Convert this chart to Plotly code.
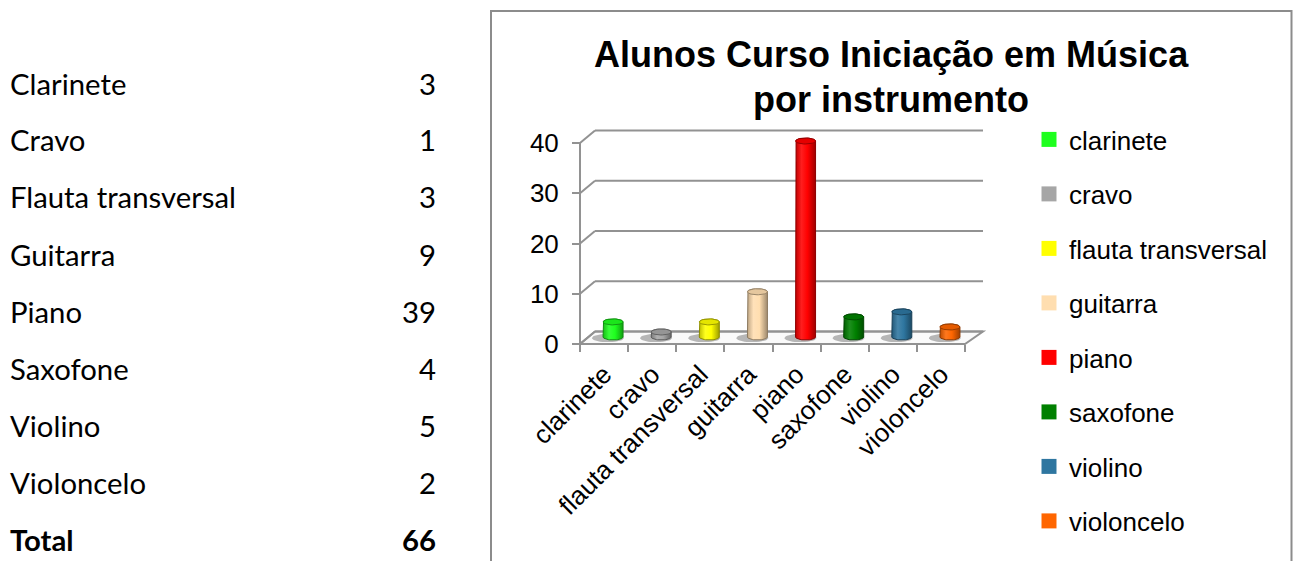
import numpy as np
import plotly.graph_objects as go

# ---------------- data ----------------
table_labels = ["Clarinete", "Cravo", "Flauta transversal", "Guitarra", "Piano",
                "Saxofone", "Violino", "Violoncelo"]
categories = ["clarinete", "cravo", "flauta transversal", "guitarra", "piano",
              "saxofone", "violino", "violoncelo"]
values = [3, 1, 3, 9, 39, 4, 5, 2]
total_label = "Total"
total_value = 66
y_ticks = [0, 10, 20, 30, 40]
colors = ["#1EFF1E", "#A6A6A6", "#FFFF00", "#FFDEB0", "#FF0000", "#008000",
          "#2E76A0", "#FF6600"]
title_lines = ["Alunos Curso Iniciação em Música", "por instrumento"]

# ---------------- geometry (pixels) ----------------
W, H = 1295, 561
FX0, FX1 = 580, 965          # front floor edge in px
FY0, FYTOP = 344, 143        # px of value 0 and of top tick
n = len(categories)
ux = (FX1 - FX0) / n
uy = (FY0 - FYTOP) / y_ticks[-1]
DXL, DXR, DY = 15 / ux, 18 / ux, 12.5 / uy
PL, PR, PT, PB = 566, 995, 115, 358
xr = [-0.5 - (FX0 - PL) / ux, n - 0.5 + (PR - FX1) / ux]
yr = [-(PB - FY0) / uy, (FY0 - PT) / uy]

GRID = "#929292"


def shade(hexc, f):
    h = hexc.lstrip("#")
    r, g, b = int(h[0:2], 16), int(h[2:4], 16), int(h[4:6], 16)
    if f < 1:
        r, g, b = int(r * f), int(g * f), int(b * f)
    else:
        t = f - 1
        r, g, b = int(r + (255 - r) * t), int(g + (255 - g) * t), int(b + (255 - b) * t)
    return f"rgb({r},{g},{b})"


fig = go.Figure()

# cylinders
BAR_OFF = 9 / ux
RX = 10 / ux
RY = 3 / uy
BASE = 7 / uy
for i, (v, c) in enumerate(zip(values, colors)):
    cx = i + BAR_OFF
    top = BASE + v
    t_up = np.linspace(np.pi, 0, 30)
    t_dn = np.linspace(0, -np.pi, 30)
    xs = np.concatenate([[cx - RX, cx - RX], cx + RX * np.cos(t_up), [cx + RX],
                         cx + RX * np.cos(t_dn)])
    ys = np.concatenate([[BASE, top], top + RY * np.sin(t_up), [BASE],
                         BASE + RY * np.sin(t_dn)])
    # shadow on the floor
    ts = np.linspace(0, 2 * np.pi, 40)
    fig.add_trace(go.Scatter(
        x=cx - 5 / ux + RX * 1.6 * np.cos(ts), y=BASE - 1.0 / uy + RY * 1.4 * np.sin(ts),
        mode="lines", fill="toself", fillcolor="rgba(80,80,80,0.40)",
        line=dict(width=0), showlegend=False, hoverinfo="skip"))
    fig.add_trace(go.Scatter(
        x=xs, y=ys, mode="lines", fill="toself",
        fillgradient=dict(type="horizontal",
                          colorscale=[[0, shade(c, 0.75)], [0.3, shade(c, 1.12)],
                                      [0.6, c], [1, shade(c, 0.62)]]),
        line=dict(color=shade(c, 0.55), width=1),
        showlegend=False, hoverinfo="skip"))
    tt = np.linspace(0, 2 * np.pi, 40)
    fig.add_trace(go.Scatter(
        x=cx + RX * np.cos(tt), y=top + RY * np.sin(tt), mode="lines", fill="toself",
        fillcolor=shade(c, 0.9), line=dict(color=shade(c, 0.6), width=1),
        showlegend=False, hoverinfo="skip"))

# legend entries
for i, (cat, c) in enumerate(zip(categories, colors)):
    fig.add_trace(go.Scatter(
        x=[None], y=[None], mode="markers", name=cat, legendgroup=f"g{i}",
        marker=dict(symbol="square", size=15, color=c)))

# 3D walls / floor / gridlines as shapes
shapes = []
xb0 = -0.5 + DXL
xb1 = n - 0.5 + DXR
shapes.append(dict(type="path", xref="x", yref="y", layer="below",
                   path=f"M{-0.5},0 L{n-0.5},0 L{xb1},{DY} L{xb0},{DY} Z",
                   fillcolor="#FAFAFA", line=dict(color=GRID, width=2)))
for v in y_ticks:
    shapes.append(dict(type="line", xref="x", yref="y", layer="below",
                       x0=xb0, y0=v + DY, x1=xb1, y1=v + DY,
                       line=dict(color=GRID, width=2)))
    shapes.append(dict(type="line", xref="x", yref="y", layer="below",
                       x0=-0.5, y0=v, x1=xb0, y1=v + DY,
                       line=dict(color=GRID, width=2)))
shapes.append(dict(type="line", xref="x", yref="y", layer="below",
                   x0=-0.5, y0=0, x1=-0.5, y1=y_ticks[-1],
                   line=dict(color=GRID, width=2)))
# chart frame
shapes.append(dict(type="rect", xref="paper", yref="paper",
                   x0=491 / W, x1=1291.5 / W, y0=-0.2, y1=1 - 11 / H,
                   line=dict(color="#8C8C8C", width=2), layer="below"))

annotations = []
for line_txt, yc in zip(title_lines, [55, 100]):
    annotations.append(dict(xref="paper", yref="paper", x=891 / W, y=1 - yc / H,
                            xanchor="center", yanchor="middle", showarrow=False,
                            text=f"<b>{line_txt}</b>",
                            font=dict(family="Liberation Sans", size=36, color="black")))
# left table
TFONT = dict(family="Lato", size=29.3, color="black")
row_y = [84 + 57 * k for k in range(len(table_labels) + 1)]
for k, (lab, val) in enumerate(zip(table_labels, values)):
    annotations.append(dict(xref="paper", yref="paper", x=8 / W, y=1 - (row_y[k] - 1) / H,
                            xanchor="left", yanchor="middle", showarrow=False, text=lab,
                            font=TFONT))
    annotations.append(dict(xref="paper", yref="paper", x=438 / W, y=1 - (row_y[k] - 1) / H,
                            xanchor="right", yanchor="middle", showarrow=False, text=str(val),
                            font=TFONT))
annotations.append(dict(xref="paper", yref="paper", x=8 / W, y=1 - (row_y[-1] - 1) / H,
                        xanchor="left", yanchor="middle", showarrow=False,
                        text=f"<b>{total_label}</b>", font=TFONT))
annotations.append(dict(xref="paper", yref="paper", x=438 / W, y=1 - (row_y[-1] - 1) / H,
                        xanchor="right", yanchor="middle", showarrow=False,
                        text=f"<b>{total_value}</b>", font=TFONT))

fig.update_layout(
    width=W, height=H, margin=dict(l=0, r=0, t=0, b=0, autoexpand=False),
    paper_bgcolor="white", plot_bgcolor="rgba(0,0,0,0)",
    shapes=shapes, annotations=annotations,
    xaxis=dict(domain=[PL / W, PR / W], range=xr, anchor="free", position=1 - FY0 / H,
               tickvals=list(range(n)), ticktext=categories, tickangle=-45,
               ticks="", showgrid=False, zeroline=False, showline=False,
               automargin=False, ticklabelstandoff=9,
               tickfont=dict(family="Liberation Sans", size=26, color="black"),
               minor=dict(tickmode="array", tickvals=[k - 0.5 for k in range(n + 1)],
                          ticks="outside", ticklen=7, tickwidth=2, tickcolor=GRID,
                          showgrid=False),
               fixedrange=True),
    yaxis=dict(domain=[1 - PB / H, 1 - PT / H], range=yr, anchor="free",
               position=FX0 / W, tickvals=y_ticks, ticks="outside", ticklen=8,
               tickwidth=2, tickcolor=GRID, showgrid=False, zeroline=False,
               showline=False, ticklabelstandoff=8, automargin=False,
               tickfont=dict(family="Liberation Sans", size=26, color="black"),
               fixedrange=True),
    legend=dict(x=1029 / W, y=1 - 116 / H, xanchor="left", yanchor="top",
                font=dict(family="Liberation Sans", size=26, color="black"),
                tracegroupgap=17.7, bgcolor="rgba(0,0,0,0)"),
    showlegend=True,
)

fig.write_html("out.html", config={"displayModeBar": False},
               post_script="document.body.style.margin='0';")
